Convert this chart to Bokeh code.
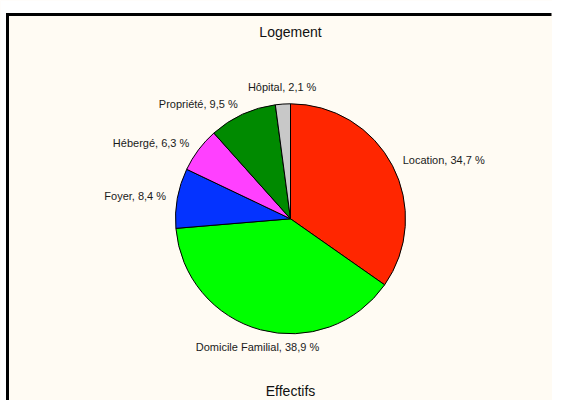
import math
from bokeh.plotting import figure
from bokeh.models import ColumnDataSource, BoxAnnotation, Range1d
from bokeh.core.properties import value, field
from bokeh.embed import file_html
from bokeh.resources import INLINE

# ---- data ----
categories = ["Location", "Domicile Familial", "Foyer", "Hébergé", "Propriété", "Hôpital"]
percents = [34.7, 38.9, 8.4, 6.3, 9.5, 2.1]
colors = ["#FF2600", "#00FF00", "#0433FF", "#FF40FF", "#008A00", "#C8C8C8"]
title_text = "Logement"
footer_text = "Effectifs"

# ---- layout constants (pixels, measured from the top-left corner) ----
W, H = 552, 400
def Y(img_y):
    return H - img_y
CX, CY = 290, Y(218.3)
R = 115
R_LABEL = 126.5
FONT = "Liberation Sans"
BG = "#FFFBF3"
FRAME_L, FRAME_T = 7, Y(14)

total = sum(percents)
starts, ends, lx, ly, aligns, baselines, texts = [], [], [], [], [], [], []
cum = 0.0
for cat, pct in zip(categories, percents):
    a0 = math.pi / 2 - 2 * math.pi * cum / total
    cum += pct
    a1 = math.pi / 2 - 2 * math.pi * cum / total
    starts.append(a1)
    ends.append(a0)
    mid = (a0 + a1) / 2
    c, s = math.cos(mid), math.sin(mid)
    lx.append(CX + R_LABEL * c)
    ly.append(CY + R_LABEL * s)
    if abs(c) < 0.3:
        aligns.append("center")
        baselines.append("bottom" if s > 0 else "top")
    else:
        aligns.append("left" if c > 0 else "right")
        baselines.append("middle")
    texts.append(f"{cat}, {pct:.1f} %".replace(".", ","))

wedges = ColumnDataSource(dict(start=starts, end=ends, color=colors,
                               x=[CX] * len(percents), y=[CY] * len(percents)))
labels = ColumnDataSource(dict(x=lx, y=ly, text=texts, align=aligns, baseline=baselines))

p = figure(width=W, height=H, output_backend="svg", toolbar_location=None,
           x_range=Range1d(0, W), y_range=Range1d(0, H),
           min_border=0, min_border_left=0, min_border_right=0,
           min_border_top=0, min_border_bottom=0)
p.axis.visible = False
p.grid.visible = False
p.outline_line_color = None
p.background_fill_color = BG
p.border_fill_color = "white"

# white outside the cream panel, then its left / top border (two separate strokes)
p.add_layout(BoxAnnotation(right=FRAME_L, fill_color="white", fill_alpha=1.0,
                           line_color=None, level="underlay"))
p.add_layout(BoxAnnotation(bottom=FRAME_T, fill_color="white", fill_alpha=1.0,
                           line_color=None, level="underlay"))
p.segment(x0=[FRAME_L - 1.5, FRAME_L], y0=[FRAME_T, FRAME_T + 1.5],
          x1=[W - 1, FRAME_L], y1=[FRAME_T, 0],
          line_color="black", line_width=3, line_cap="butt")

p.wedge(x="x", y="y", radius=R, radius_units="screen",
        start_angle="start", end_angle="end",
        fill_color="color", line_color="black", line_width=1, source=wedges)

p.text(x="x", y="y", text="text", source=labels,
       text_align=field("align"), text_baseline=field("baseline"),
       text_font=value(FONT), text_font_size="11px", text_color="#1a1a1a")

p.text(x=[CX], y=[Y(31.7)], text=[title_text], text_align="center",
       text_baseline="middle", text_font=value(FONT), text_font_size="14px",
       text_color="#111111")
p.text(x=[CX], y=[Y(H - 2)], text=[footer_text], text_align="center",
       text_baseline="bottom", text_font=value(FONT), text_font_size="14px",
       text_color="#111111")

open("out.html", "w").write(file_html(p, INLINE))
